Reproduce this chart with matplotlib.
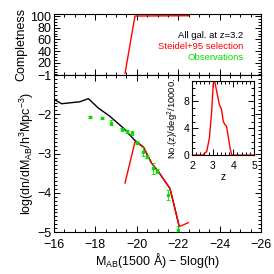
import numpy as np
import matplotlib
matplotlib.use("Agg")
import matplotlib.pyplot as plt
from matplotlib.ticker import MultipleLocator

plt.rcParams['font.family'] = ['Liberation Sans', 'DejaVu Sans']
plt.rcParams['mathtext.fontset'] = 'custom'
plt.rcParams['mathtext.rm'] = 'Liberation Sans'
plt.rcParams['mathtext.it'] = 'Liberation Sans'

# completeness of the Steidel+95 selection (top panel)
comp_mag = [-19.43, -19.91, -22.49]
comp_val = [2.0, 100.0, 100.5]

# luminosity function, all galaxies at z=3.2
all_mag = [-16.0, -16.37, -17.25, -17.66, -18.14, -18.7, -19.35, -19.9,
           -20.31, -20.72, -21.04, -21.6, -22.05]
all_lf = [-1.62, -1.73, -1.68, -1.60, -1.84, -2.05, -2.35, -2.66,
          -2.83, -3.25, -3.46, -3.89, -4.86]

# luminosity function after colour selection
sel_mag = [-19.43, -19.91, -20.31, -20.72, -21.04, -21.6, -22.05, -22.49]
sel_lf = [-3.75, -2.70, -2.83, -3.25, -3.46, -3.89, -4.86, -4.76]

# observations
obs_mag = [-17.74, -18.3, -18.75, -19.27, -19.51, -19.75, -19.99, -20.28,
           -20.51, -20.77, -20.99, -21.52, -22.0]
obs_lf = [-2.06, -2.10, -2.21, -2.38, -2.43, -2.47, -2.72, -2.95,
          -3.08, -3.38, -3.44, -4.06, -4.95]
obs_err = [0.03, 0.03, 0.07, 0.04, 0.04, 0.05, 0.04, 0.12,
           0.04, 0.15, 0.05, 0.12, 0.10]

# redshift distribution of selected galaxies (inset)
z_vals = [2.0, 2.52, 2.71, 2.84, 2.95, 3.03, 3.11, 3.19, 3.32, 3.43,
          3.51, 3.59, 3.67, 3.75, 3.84, 3.92, 5.0]
nz_vals = [0.0, 0.0, 0.55, 2.55, 6.55, 10.8, 10.8, 9.55, 7.55, 6.8,
           5.05, 4.55, 4.3, 2.8, 1.05, 0.0, 0.0]

red = '#ff0000'
green = '#00dd00'
fs = 9

fig = plt.figure(figsize=(2.74, 2.74), dpi=100)
ax1 = fig.add_axes([0.197, 0.726, 0.756, 0.223])
ax2 = fig.add_axes([0.197, 0.153, 0.756, 0.573])
axin = fig.add_axes([0.701, 0.434, 0.226, 0.269])

def style(ax, size=fs):
    ax.tick_params(which='both', direction='in', top=True, right=True,
                   labelsize=size, pad=2, width=0.7)
    ax.tick_params(which='major', length=4)
    ax.tick_params(which='minor', length=2)
    for s in ax.spines.values():
        s.set_linewidth(0.8)

# top panel
ax1.plot(comp_mag, comp_val, color=red, lw=1.0)
ax1.set_xlim(-16, -26)
ax1.set_ylim(-1, 103.5)
ax1.set_yticks([20, 40, 60, 80, 100])
ax1.xaxis.set_major_locator(MultipleLocator(2))
ax1.xaxis.set_minor_locator(MultipleLocator(0.5))
ax1.yaxis.set_minor_locator(MultipleLocator(5))
ax1.set_xticklabels([])
style(ax1)
ax1.set_ylabel('Completness', fontsize=fs, labelpad=2)
ax1.text(0.916, 0.64, 'All gal. at z=3.2', transform=ax1.transAxes,
         ha='right', va='center', fontsize=6.8, color='black')
ax1.text(0.916, 0.464, 'Steidel+95 selection', transform=ax1.transAxes,
         ha='right', va='center', fontsize=6.8, color=red)
ax1.text(0.916, 0.29, 'Observations', transform=ax1.transAxes,
         ha='right', va='center', fontsize=6.8, color=green)

# bottom panel
ax2.plot(all_mag, all_lf, color='black', lw=1.0)
ax2.plot(sel_mag, sel_lf, color=red, lw=1.0)
ax2.errorbar(obs_mag, obs_lf, yerr=obs_err, fmt='s', ms=2, color=green,
             ecolor=green, elinewidth=0.6, capsize=1.2, capthick=0.6)
ax2.set_xlim(-16, -26)
ax2.set_ylim(-5, -1)
ax2.set_yticks([-5, -4, -3, -2, -1])
ax2.xaxis.set_major_locator(MultipleLocator(2))
ax2.xaxis.set_minor_locator(MultipleLocator(0.5))
ax2.yaxis.set_minor_locator(MultipleLocator(0.1))
style(ax2)
ax2.tick_params(axis='x', pad=5)
ax2.set_xlabel(r'M$_{\rm AB}$(1500 Å) $-$ 5log(h)', fontsize=fs, labelpad=0)
ax2.set_ylabel(r'log(dn/dM$_{\rm AB}$/h$^3$Mpc$^{-3}$)', fontsize=fs,
               labelpad=1)

# inset
axin.plot(z_vals, nz_vals, color=red, lw=1.0)
axin.set_xlim(2, 5)
axin.set_ylim(0, 11)
axin.set_xticks([2, 3, 4, 5])
axin.set_yticks([0, 4, 8])
axin.xaxis.set_minor_locator(MultipleLocator(0.2))
axin.yaxis.set_minor_locator(MultipleLocator(1))
style(axin, size=7.5)
axin.tick_params(axis='x', pad=4)
axin.set_xlabel('z', fontsize=7.5, labelpad=1)
axin.set_ylabel(r'No.(z)/deg$^2$/10000.', fontsize=6.8, labelpad=2)

fig.savefig('out.png', dpi=100)
